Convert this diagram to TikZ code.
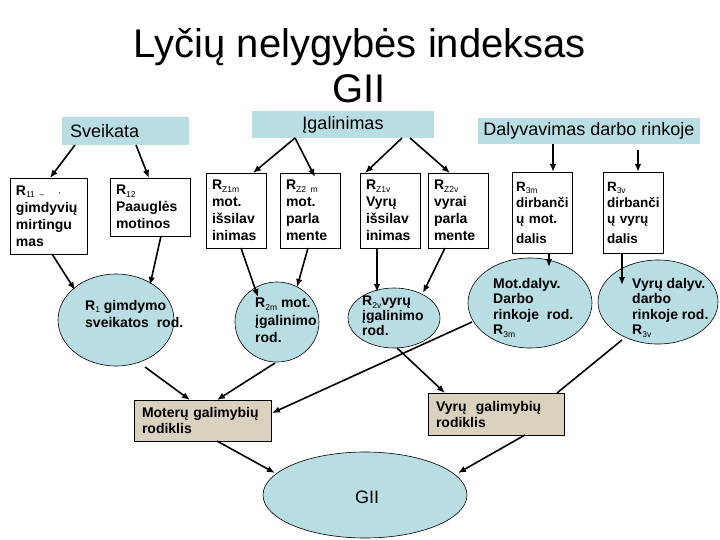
\documentclass[tikz,border=0pt]{standalone}
\usepackage{fontspec}
\setmainfont{Liberation Sans}
\usetikzlibrary{arrows.meta,shapes.geometric,calc}
\definecolor{lblue}{HTML}{B8DDE3}
\definecolor{tanc}{HTML}{DAD2BE}
\newcommand\sbx[1]{\raisebox{-2.5pt}{\mdseries\fontsize{8.5}{9}\selectfont #1}}
\begin{document}
\begin{tikzpicture}[x=1pt,y=-1pt,
  hdr/.style={fill=lblue, draw=none, inner sep=0, font=\fontsize{18}{21}\selectfont},
  wbox/.style={draw=black, line width=0.8pt, fill=white, inner ysep=0, inner xsep=6,
    align=left, font=\fontsize{14}{17}\selectfont\bfseries},
  ell/.style={ellipse, draw=black, line width=0.6pt, fill=lblue, inner sep=0},
  etext/.style={anchor=north west, align=left, inner sep=0},
  tbox/.style={draw=black, line width=0.8pt, fill=tanc, inner ysep=0, inner xsep=8,
    align=left, font=\fontsize{14}{16}\selectfont\bfseries},
  arr/.style={-{Latex[length=8pt,width=6.5pt]}, line width=1.6pt},
  plain/.style={line width=1.6pt}]
\useasboundingbox (0,0) rectangle (720,540);

% title
\node[anchor=base, inner sep=0, font=\fontsize{40}{46}\selectfont] (title1) at (360,58) {Lyčių nelygybės indeksas};
\node[anchor=base, inner sep=0, font=\fontsize{40}{46}\selectfont] (title2) at (359,103) {GII};

% headers
\node[hdr, minimum width=127, minimum height=28, text width=111, inner xsep=8, align=left] (sv) at (125.5,131) {Sveikata};
\node[hdr, minimum width=182, minimum height=27] (ig) at (343,124.5) {Įgalinimas};
\node[hdr, minimum width=222, minimum height=26] (da) at (589,131) {Dalyvavimas darbo rinkoje};

% white boxes
\node[wbox, minimum width=77, minimum height=76, text width=65] (r11) at (48.5,216)
  {R\sbx{11 –\ \ \ \raisebox{4pt}{,}}\\gimdyvių\\mirtingu\\mas};
\node[wbox, minimum width=80, minimum height=58, text width=68] (r12) at (150,207)
  {R\sbx{12}\\Paauglės\\motinos};
\node[wbox, minimum width=60, minimum height=75, text width=48] (rz1m) at (236,210.5)
  {R\sbx{Z1m}\\mot.\\išsilav\\inimas};
\node[wbox, minimum width=60, minimum height=75, text width=48] (rz2m) at (310,210.5)
  {R\sbx{Z2 m}\\mot.\\parla\\mente};
\node[wbox, minimum width=60, minimum height=75, text width=48] (rz1v) at (390,210.5)
  {R\sbx{Z1v}\\Vyrų\\išsilav\\inimas};
\node[wbox, minimum width=60, minimum height=75, text width=48] (rz2v) at (458,210.5)
  {R\sbx{Z2v}\\vyrai\\parla\\mente};
\node[wbox, minimum width=60, minimum height=81, text width=52, inner xsep=4, font=\fontsize{13.5}{16}\selectfont\bfseries] (r3m) at (542,212.5)
  {R\sbx{3m}\\dirbanči\\ų mot.\\[4pt]dalis};
\node[wbox, minimum width=60, minimum height=81, text width=52, inner xsep=4, font=\fontsize{13.5}{16}\selectfont\bfseries] (r3v) at (633,212.5)
  {R\sbx{3v}\\dirbanči\\ų vyrų\\[4pt]dalis};

% ellipses
\node[ell, minimum width=116, minimum height=92] (e1) at (116,320) {};
\node[ell, minimum width=84, minimum height=80] (e2m) at (277,322) {};
\node[ell, minimum width=92, minimum height=60] (e2v) at (394,318) {};
\node[ell, minimum width=124, minimum height=90] (e3m) at (530,303) {};
\node[ell, minimum width=120, minimum height=84] (e3v) at (658,302) {};
\node[ell, minimum width=204, minimum height=86] (gii) at (365,495) {};

\node[etext, font=\fontsize{14}{17}\selectfont\bfseries] (t1) at (85,300)
  {R\sbx{1} gimdymo\\sveikatos\ \ rod.};
\node[etext, font=\fontsize{14}{17.5}\selectfont\bfseries] (t2m) at (255,298)
  {R\sbx{2m} mot.\\įgalinimo\\rod.};
\node[etext, font=\fontsize{14}{15}\selectfont\bfseries] (t2v) at (362,296)
  {R\sbx{2v}vyrų\\įgalinimo\\rod.};
\node[etext, font=\fontsize{14}{15.5}\selectfont\bfseries] (t3m) at (493,278)
  {Mot.dalyv.\\Darbo\\rinkoje\ \ rod.\\R\sbx{3m}};
\node[etext, font=\fontsize{14}{15.5}\selectfont\bfseries] (t3v) at (632,278)
  {Vyrų dalyv.\\darbo\\rinkoje rod.\\R\sbx{3v}};
\node[inner sep=0, font=\fontsize{18}{21}\selectfont] (giit) at (367,497) {GII};

% tan boxes
\node[tbox, minimum width=137, minimum height=41, text width=121] (mot) at (202.5,420.5)
  {Moterų galimybių\\rodiklis};
\node[tbox, minimum width=136, minimum height=42, text width=120] (vyr) at (496,414)
  {Vyrų\ \ galimybių\\rodiklis};

% connectors
\draw[arr] ([shift={(-50.5,14)}]sv.center) -- ([shift={(1.5,-38)}]r11.center);
\draw[arr] ([shift={(10.5,14)}]sv.center) -- ([shift={(-1,-29)}]r12.center);
\draw[arr] ([shift={(3.5,38)}]r11.center) -- ([shift={(-41,-30)}]e1.center);
\draw[arr] ([shift={(11,29)}]r12.center) -- ([shift={(34,-35)}]e1.center);

\draw[arr] ([shift={(-48,13.5)}]ig.center) -- ([shift={(17,-37.5)}]rz1m.center);
\draw[arr] ([shift={(-48,13.5)}]ig.center) -- ([shift={(5,-33.5)}]rz2m.center);
\draw[arr] ([shift={(59,13.5)}]ig.center) -- ([shift={(-25,-37.5)}]rz1v.center);
\draw[arr] ([shift={(67,13.5)}]ig.center) -- ([shift={(-8,-37.5)}]rz2v.center);

\draw[arr] ([shift={(-36,13)}]da.center) -- ([shift={(11,-40.5)}]r3m.center);
\draw[arr] ([shift={(49,19)}]da.center) -- ([shift={(5,-40.5)}]r3v.center);

\draw[arr] ([shift={(5,37.5)}]rz1m.center) -- ([shift={(-19,-25)}]e2m.center);
\draw[arr] ([shift={(-2,37.5)}]rz2m.center) -- ([shift={(20,-35)}]e2m.center);
\draw[arr] ([shift={(-13,37.5)}]rz1v.center) -- ([shift={(-17,-26)}]e2v.center);
\draw[arr] ([shift={(-13,37.5)}]rz2v.center) -- ([shift={(29,-25)}]e2v.center);

\draw[arr] ([shift={(7,40.5)}]r3m.center) -- ([shift={(19,-36)}]e3m.center);
\draw[arr] ([shift={(-11,40.5)}]r3v.center) -- ([shift={(-36,-17)}]e3v.center);

\draw[arr] ([shift={(29,47)}]e1.center) -- ([shift={(-12.5,-20.5)}]mot.center);
\draw[arr] ([shift={(-2,41)}]e2m.center) -- ([shift={(14.5,-20.5)}]mot.center);
\draw[arr] ([shift={(-58,19)}]e3m.center) -- ([shift={(69.5,-7.5)}]mot.center);
\draw[arr] ([shift={(3,30)}]e2v.center) -- ([shift={(-51,-21)}]vyr.center);
\draw[plain] ([shift={(-36,38)}]e3v.center) -- ([shift={(61,-21)}]vyr.center);

\draw[arr] ([shift={(14.5,20.5)}]mot.center) -- ([shift={(-90,-22)}]gii.center);
\draw[arr] ([shift={(29,21)}]vyr.center) -- ([shift={(93,-22)}]gii.center);
\end{tikzpicture}
\end{document}
